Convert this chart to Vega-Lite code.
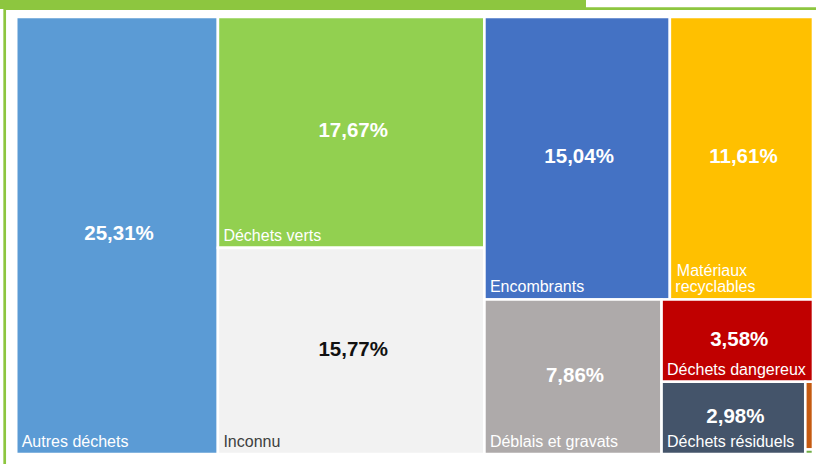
{
  "$schema": "https://vega.github.io/schema/vega-lite/v6.json",
  "width": 814.3,
  "height": 458.3,
  "autosize": {"type": "none"},
  "padding": {"left": 4.7, "top": 8.7, "right": -3, "bottom": -3},
  "background": "white",
  "config": {
    "view": {"stroke": "#8DC63F", "strokeWidth": 2.7},
    "locale": {"number": {"decimal": ",", "thousands": " ", "grouping": [3], "currency": ["", " €"]}},
    "text": {"font": "Liberation Sans"}
  },
  "layer": [
    {
      "data": {
        "values": [
          {"name": "Autres déchets", "label": "Autres déchets", "share": 0.2531, "ord": 1, "k1": "A", "k2": "A", "k3": "A", "k4": "A", "k5": "A", "k6": "A"},
          {"name": "Déchets verts", "label": "Déchets verts", "share": 0.1767, "ord": 2, "k1": "B", "k2": "Bv", "k3": "Bv", "k4": "Bv", "k5": "Bv", "k6": "Bv"},
          {"name": "Inconnu", "label": "Inconnu", "share": 0.1577, "ord": 3, "k1": "B", "k2": "Bi", "k3": "Bi", "k4": "Bi", "k5": "Bi", "k6": "Bi"},
          {"name": "Encombrants", "label": "Encombrants", "share": 0.1504, "ord": 4, "k1": "C", "k2": "C1", "k3": "Enc", "k4": "Enc", "k5": "Enc", "k6": "Enc"},
          {"name": "Matériaux recyclables", "label": "Matériaux\nrecyclables", "share": 0.1161, "ord": 5, "k1": "C", "k2": "C1", "k3": "Mat", "k4": "Mat", "k5": "Mat", "k6": "Mat"},
          {"name": "Déblais et gravats", "label": "Déblais et gravats", "share": 0.0786, "ord": 6, "k1": "C", "k2": "C2", "k3": "Deb", "k4": "Deb", "k5": "Deb", "k6": "Deb"},
          {"name": "Déchets dangereux", "label": "Déchets dangereux", "share": 0.0358, "ord": 7, "k1": "C", "k2": "C2", "k3": "D", "k4": "Dang", "k5": "Dang", "k6": "Dang"},
          {"name": "Déchets résiduels", "label": "Déchets résiduels", "share": 0.0298, "ord": 8, "k1": "C", "k2": "C2", "k3": "D", "k4": "DR", "k5": "Res", "k6": "Res"},
          {"name": "Catégorie 9", "label": "Catégorie 9", "share": 0.0015, "ord": 9, "k1": "C", "k2": "C2", "k3": "D", "k4": "DR", "k5": "T", "k6": "Or"},
          {"name": "Catégorie 10", "label": "Catégorie 10", "share": 0.0001, "ord": 10, "k1": "C", "k2": "C2", "k3": "D", "k4": "DR", "k5": "T", "k6": "Gr"}
        ]
      },
      "transform": [
        {"stack": "share", "groupby": [], "sort": [{"field": "ord", "order": "ascending"}], "as": ["a0", "a1"]},
        {"joinaggregate": [{"op": "max", "field": "a1", "as": "T"}]},
        {"joinaggregate": [{"op": "min", "field": "a0", "as": "n0_1"}, {"op": "max", "field": "a1", "as": "n1_1"}], "groupby": ["k1"]},
        {"calculate": "datum.n0_1 / datum.T", "as": "x0_1"},
        {"calculate": "datum.n1_1 / datum.T", "as": "x1_1"},
        {"joinaggregate": [{"op": "min", "field": "a0", "as": "n0_2"}, {"op": "max", "field": "a1", "as": "n1_2"}], "groupby": ["k2"]},
        {"calculate": "(datum.n0_2 - datum.n0_1) / (datum.n1_1 - datum.n0_1)", "as": "y0_2"},
        {"calculate": "(datum.n1_2 - datum.n0_1) / (datum.n1_1 - datum.n0_1)", "as": "y1_2"},
        {"joinaggregate": [{"op": "min", "field": "a0", "as": "n0_3"}, {"op": "max", "field": "a1", "as": "n1_3"}], "groupby": ["k3"]},
        {"calculate": "datum.x0_1 + (datum.n0_3 - datum.n0_2) / (datum.n1_2 - datum.n0_2) * (datum.x1_1 - datum.x0_1)", "as": "x0_3"},
        {"calculate": "datum.x0_1 + (datum.n1_3 - datum.n0_2) / (datum.n1_2 - datum.n0_2) * (datum.x1_1 - datum.x0_1)", "as": "x1_3"},
        {"joinaggregate": [{"op": "min", "field": "a0", "as": "n0_4"}, {"op": "max", "field": "a1", "as": "n1_4"}], "groupby": ["k4"]},
        {"calculate": "datum.y0_2 + (datum.n0_4 - datum.n0_3) / (datum.n1_3 - datum.n0_3) * (datum.y1_2 - datum.y0_2)", "as": "y0_4"},
        {"calculate": "datum.y0_2 + (datum.n1_4 - datum.n0_3) / (datum.n1_3 - datum.n0_3) * (datum.y1_2 - datum.y0_2)", "as": "y1_4"},
        {"joinaggregate": [{"op": "min", "field": "a0", "as": "n0_5"}, {"op": "max", "field": "a1", "as": "n1_5"}], "groupby": ["k5"]},
        {"calculate": "datum.x0_3 + (datum.n0_5 - datum.n0_4) / (datum.n1_4 - datum.n0_4) * (datum.x1_3 - datum.x0_3)", "as": "x0_5"},
        {"calculate": "datum.x0_3 + (datum.n1_5 - datum.n0_4) / (datum.n1_4 - datum.n0_4) * (datum.x1_3 - datum.x0_3)", "as": "x1_5"},
        {"joinaggregate": [{"op": "min", "field": "a0", "as": "n0_6"}, {"op": "max", "field": "a1", "as": "n1_6"}], "groupby": ["k6"]},
        {"calculate": "datum.y0_4 + (datum.n0_6 - datum.n0_5) / (datum.n1_5 - datum.n0_5) * (datum.y1_4 - datum.y0_4)", "as": "y0_6"},
        {"calculate": "datum.y0_4 + (datum.n1_6 - datum.n0_5) / (datum.n1_5 - datum.n0_5) * (datum.y1_4 - datum.y0_4)", "as": "y1_6"},
        {"calculate": "(datum.x0_5 + datum.x1_5) / 2", "as": "xm"},
        {"calculate": "(datum.y0_6 + datum.y1_6) / 2", "as": "ym"}
      ],
      "layer": [
        {
          "mark": {"type": "rect", "stroke": "white", "strokeWidth": 2.6},
          "encoding": {
            "x": {"field": "x0_5", "type": "quantitative", "axis": null, "scale": {"domain": [-0.01443, 1.00753], "nice": false, "zero": false}},
            "x2": {"field": "x1_5"},
            "y": {"field": "y0_6", "type": "quantitative", "axis": null, "scale": {"domain": [-0.01899, 1.02975], "nice": false, "zero": false, "reverse": true}},
            "y2": {"field": "y1_6"},
            "color": {
              "field": "name",
              "type": "nominal",
              "legend": null,
              "scale": {
                "domain": ["Autres déchets", "Déchets verts", "Inconnu", "Encombrants", "Matériaux recyclables", "Déblais et gravats", "Déchets dangereux", "Déchets résiduels", "Catégorie 9", "Catégorie 10"],
                "range": ["#5B9BD5", "#92D050", "#F2F2F2", "#4472C4", "#FFC000", "#AEAAAA", "#C00000", "#44546A", "#C55A11", "#70AD47"]
              }
            }
          }
        },
        {
          "transform": [{"filter": "datum.share > 0.01"}],
          "mark": {"type": "text", "fontSize": 20.5, "fontWeight": "bold", "align": "center", "baseline": "middle", "dy": -1, "dx": 2},
          "encoding": {
            "x": {"field": "xm", "type": "quantitative"},
            "y": {"field": "ym", "type": "quantitative"},
            "text": {"field": "share", "type": "quantitative", "format": ".2%"},
            "color": {"condition": {"test": "datum.name === 'Inconnu'", "value": "#111111"}, "value": "white"}
          }
        },
        {
          "transform": [
            {"filter": "datum.share > 0.01"},
            {"calculate": "peek(split(datum.label, '\\n'))", "as": "lastLine"}
          ],
          "mark": {"type": "text", "fontSize": 16, "align": "left", "baseline": "alphabetic", "dx": 5.5, "dy": -7},
          "encoding": {
            "x": {"field": "x0_5", "type": "quantitative"},
            "y": {"field": "y1_6", "type": "quantitative"},
            "text": {"field": "lastLine", "type": "nominal"},
            "color": {"condition": {"test": "datum.name === 'Inconnu'", "value": "#404040"}, "value": "white"}
          }
        },
        {
          "transform": [
            {"filter": "datum.share > 0.01 && indexof(datum.label, '\\n') >= 0"},
            {"calculate": "split(datum.label, '\\n')[0]", "as": "firstLine"}
          ],
          "mark": {"type": "text", "fontSize": 16, "align": "left", "baseline": "alphabetic", "dx": 7, "dy": -23},
          "encoding": {
            "x": {"field": "x0_5", "type": "quantitative"},
            "y": {"field": "y1_6", "type": "quantitative"},
            "text": {"field": "firstLine", "type": "nominal"},
            "color": {"value": "white"}
          }
        }
      ]
    },
    {
      "data": {"values": [{"part": "bandeau"}]},
      "mark": {"type": "rect", "color": "#8DC63F"},
      "encoding": {
        "x": {"datum": -0.02033, "type": "quantitative", "scale": {"domain": [-0.01443, 1.00753], "nice": false, "zero": false}},
        "x2": {"datum": 0.7151},
        "y": {"datum": -0.0389, "type": "quantitative", "scale": {"domain": [-0.01899, 1.02975], "nice": false, "zero": false, "reverse": true}},
        "y2": {"datum": -0.0183}
      }
    }
  ]
}
